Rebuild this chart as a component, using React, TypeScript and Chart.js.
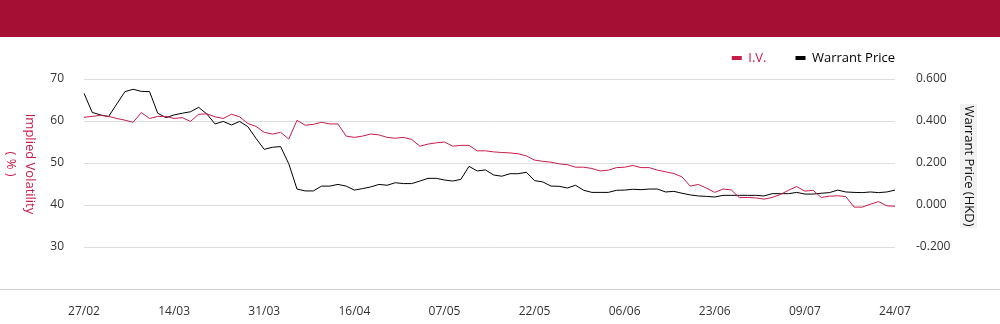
import { useEffect, useRef } from 'react';
import { Chart, registerables } from 'chart.js';

Chart.register(...registerables);

const dates = [
  '27/02', '28/02',
  '03/03', '04/03', '05/03', '06/03', '07/03', '10/03', '11/03', '12/03', '13/03', '14/03',
  '17/03', '18/03', '19/03', '20/03', '21/03', '24/03', '25/03', '26/03', '27/03', '28/03', '31/03',
  '01/04', '02/04', '03/04', '07/04', '08/04', '09/04', '10/04', '11/04', '14/04', '15/04', '16/04',
  '17/04', '22/04', '23/04', '24/04', '25/04', '28/04', '29/04', '30/04', '02/05', '06/05', '07/05',
  '08/05', '09/05', '12/05', '13/05', '14/05', '15/05', '16/05', '19/05', '20/05', '21/05', '22/05',
  '23/05', '26/05', '27/05', '28/05', '29/05', '30/05', '02/06', '03/06', '04/06', '05/06', '06/06',
  '09/06', '10/06', '11/06', '12/06', '13/06', '16/06', '17/06', '18/06', '19/06', '20/06', '23/06',
  '24/06', '25/06', '26/06', '27/06', '30/06', '02/07', '03/07', '04/07', '07/07', '08/07', '09/07',
  '10/07', '11/07', '14/07', '15/07', '16/07', '17/07', '18/07', '21/07', '22/07', '23/07', '24/07',
];

const ivValues = [
  60.9, 61.1, 61.35, 61.1, 60.6, 60.2, 59.7, 62.0, 60.6, 61.1,
  61.1, 60.6, 60.8, 59.9, 61.6, 61.7, 61.0, 60.6, 61.6, 61.0,
  59.4, 58.7, 57.3, 56.9, 57.3, 55.7, 60.15, 59.0, 59.2, 59.7,
  59.3, 59.3, 56.4, 56.1, 56.4, 56.9, 56.7, 56.1, 55.9, 56.1,
  55.6, 54.0, 54.5, 54.8, 55.0, 54.0, 54.2, 54.2, 52.9, 52.9,
  52.65, 52.5, 52.4, 52.2, 51.7, 50.7, 50.4, 50.2, 49.8, 49.6,
  49.0, 49.0, 48.7, 48.1, 48.3, 48.9, 49.0, 49.4, 48.9, 48.9,
  48.3, 47.9, 47.5, 46.7, 44.5, 44.9, 44.0, 43.0, 43.8, 43.6,
  41.75, 41.8, 41.7, 41.4, 41.8, 42.5, 43.5, 44.4, 43.3, 43.5,
  41.8, 42.1, 42.2, 42.0, 39.5, 39.5, 40.2, 40.8, 39.8, 39.7,
];

const priceValues = [
  0.532, 0.441, 0.429, 0.421, 0.481, 0.540, 0.551, 0.541, 0.540, 0.437,
  0.416, 0.429, 0.437, 0.444, 0.465, 0.433, 0.386, 0.398, 0.381, 0.398,
  0.373, 0.317, 0.265, 0.275, 0.278, 0.196, 0.076, 0.067, 0.067, 0.090,
  0.090, 0.098, 0.090, 0.071, 0.078, 0.086, 0.098, 0.094, 0.106, 0.102,
  0.102, 0.114, 0.127, 0.127, 0.119, 0.114, 0.122, 0.184, 0.162, 0.167,
  0.143, 0.137, 0.149, 0.149, 0.156, 0.116, 0.110, 0.090, 0.089, 0.081,
  0.094, 0.070, 0.060, 0.060, 0.060, 0.070, 0.071, 0.075, 0.073, 0.076,
  0.076, 0.062, 0.065, 0.056, 0.048, 0.043, 0.041, 0.038, 0.046, 0.046,
  0.046, 0.046, 0.046, 0.043, 0.054, 0.054, 0.054, 0.060, 0.052, 0.052,
  0.056, 0.059, 0.071, 0.062, 0.060, 0.059, 0.062, 0.059, 0.062, 0.071,
];

const seriesNames = ['I.V.', 'Warrant Price'];
const leftTitle = ['Implied Volatility', '( % )'];
const rightTitle = 'Warrant Price (HKD)';
const LABEL_EVERY = 11;

const HEADER_COLOR = '#A50F33';
const IV_COLOR = '#C71D4B';
const PRICE_COLOR = '#000000';
const FONT = "'Open Sans', sans-serif";
const LEGEND_PAD = 29;

export default function App() {
  const canvasRef = useRef<HTMLCanvasElement | null>(null);

  useEffect(() => {
    document.body.style.margin = '0';
    const canvas = canvasRef.current;
    if (!canvas) return;

    const decor = {
      id: 'decor',
      beforeInit(chart: any) {
        const lg = chart.legend;
        if (lg) {
          const orig = lg.fit.bind(lg);
          lg.fit = function () {
            orig();
            this.height = 42;
          };
        }
      },
      afterLayout(chart: any) {
        const lg = chart.legend;
        if (lg) {
          lg.right = chart.chartArea.right + LEGEND_PAD;
          lg.top = 14.5 - LEGEND_PAD;
        }
      },
      beforeDraw(chart: any) {
        const ctx = chart.ctx;
        const ys = chart.scales.y;
        const yc = ys.getPixelForValue(50);
        ctx.save();
        ctx.fillStyle = '#f1f1f1';
        ctx.fillRect(960, yc - 59, 17, 124);
        ctx.restore();
      },
      afterDraw(chart: any) {
        const ctx = chart.ctx;
        const ys = chart.scales.y;
        const bottom = ys.getPixelForValue(20);
        const yc = ys.getPixelForValue(50);
        ctx.save();
        ctx.strokeStyle = '#cccccc';
        ctx.lineWidth = 1;
        ctx.beginPath();
        ctx.moveTo(0, Math.round(bottom) + 0.5);
        ctx.lineTo(chart.width, Math.round(bottom) + 0.5);
        ctx.stroke();

        ctx.font = `13px ${FONT}`;
        ctx.textAlign = 'center';
        ctx.textBaseline = 'middle';
        // left title, rotated clockwise
        ctx.save();
        ctx.translate(30, yc + 1);
        ctx.rotate(Math.PI / 2);
        ctx.fillStyle = IV_COLOR;
        ctx.fillText(leftTitle[0], 0, 0);
        ctx.fillText(leftTitle[1], 0, 19);
        ctx.restore();
        // right title
        ctx.save();
        ctx.translate(969, yc + 3);
        ctx.rotate(Math.PI / 2);
        ctx.fillStyle = '#111111';
        ctx.fillText(rightTitle, 0, 0);
        ctx.restore();
        ctx.restore();
      },
    };

    const chart = new Chart(canvas, {
      type: 'line',
      data: {
        labels: dates,
        datasets: [
          {
            label: seriesNames[0],
            data: ivValues,
            yAxisID: 'y',
            borderColor: IV_COLOR,
            backgroundColor: IV_COLOR,
            borderWidth: 1,
            pointRadius: 0,
            tension: 0,
          },
          {
            label: seriesNames[1],
            data: priceValues,
            yAxisID: 'y1',
            borderColor: PRICE_COLOR,
            backgroundColor: PRICE_COLOR,
            borderWidth: 1,
            pointRadius: 0,
            tension: 0,
          },
        ],
      },
      options: {
        animation: false,
        responsive: true,
        maintainAspectRatio: false,
        layout: { padding: 0 },
        font: { family: FONT },
        plugins: {
          tooltip: { enabled: false },
          legend: {
            position: 'top',
            align: 'end',
            labels: {
              boxWidth: 10,
              boxHeight: 4,
              padding: LEGEND_PAD,
              font: { family: FONT, size: 13 },
              generateLabels: (ch: any) => {
                const items = Chart.defaults.plugins.legend.labels.generateLabels(ch);
                return items.map((it: any, i: number) => ({
                  ...it,
                  fontColor: i === 0 ? IV_COLOR : PRICE_COLOR,
                  lineWidth: 0,
                  strokeStyle: 'transparent',
                }));
              },
            },
          },
        },
        scales: {
          x: {
            grid: { display: false },
            border: { display: false },
            afterFit: (s: any) => { s.height = 35; },
            ticks: {
              autoSkip: false,
              maxRotation: 0,
              minRotation: 0,
              padding: 7,
              color: '#333333',
              font: { family: FONT, size: 12 },
              callback: function (this: any, value: any, index: number) {
                return index % LABEL_EVERY === 0 ? this.getLabelForValue(value) : '';
              },
            },
          },
          y: {
            position: 'left',
            min: 20,
            max: 70,
            afterFit: (s: any) => { s.width = 84; },
            border: { display: false },
            grid: {
              drawTicks: false,
              color: (c: any) => (c.tick && c.tick.value === 20 ? 'transparent' : '#dddddd'),
            },
            ticks: {
              stepSize: 10,
              padding: 20,
              color: '#333333',
              font: { family: FONT, size: 12 },
              callback: (v: any) => (v === 20 ? '' : String(v)),
            },
          },
          y1: {
            position: 'right',
            min: -0.4,
            max: 0.6,
            afterFit: (s: any) => { s.width = 105; },
            border: { display: false },
            grid: { display: false, drawTicks: false },
            ticks: {
              stepSize: 0.2,
              padding: 21,
              color: '#333333',
              font: { family: FONT, size: 12 },
              callback: (v: any) => (Math.abs(v + 0.4) < 1e-6 ? '' : Number(v).toFixed(3)),
            },
          },
        },
      },
      plugins: [decor],
    });

    return () => chart.destroy();
  }, []);

  return (
    <div style={{ width: 1000, height: 324, background: '#ffffff' }}>
      <div style={{ height: 37, background: HEADER_COLOR }} />
      <div style={{ position: 'relative', width: 1000, height: 287 }}>
        <canvas ref={canvasRef} />
      </div>
    </div>
  );
}
